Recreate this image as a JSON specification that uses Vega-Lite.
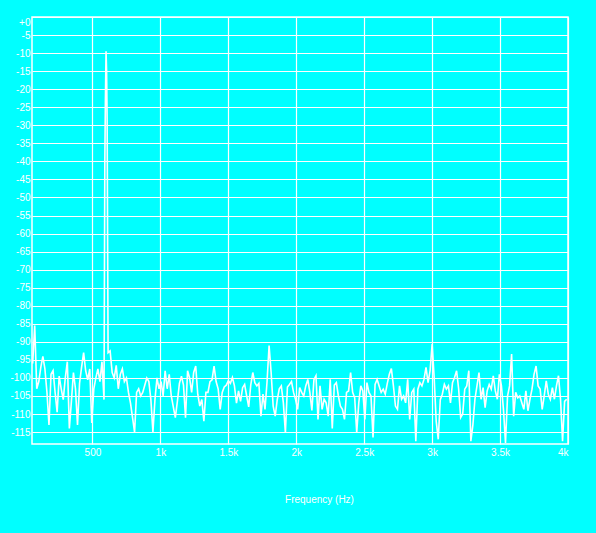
{
  "$schema": "https://vega.github.io/schema/vega-lite/v6.json",
  "width": 536,
  "height": 427,
  "autosize": {"type": "none"},
  "padding": {"left": 32, "top": 17, "right": 28, "bottom": 89},
  "background": "#00FFFF",
  "config": {
    "view": {"stroke": "#FFFFFF", "strokeWidth": 1.5, "fill": "#00FFFF"},
    "font": "Liberation Sans"
  },
  "data": {"values": [
    {"freq":60,"level":-96},{"freq":75,"level":-85.5},{"freq":90,"level":-103},{"freq":105,"level":-101},{"freq":120,"level":-97},
    {"freq":135,"level":-94},{"freq":150,"level":-97.5},{"freq":165,"level":-104},{"freq":180,"level":-113},{"freq":195,"level":-99},
    {"freq":210,"level":-98},{"freq":225,"level":-104},{"freq":240,"level":-109.5},{"freq":255,"level":-99.5},{"freq":270,"level":-103},
    {"freq":285,"level":-106},{"freq":300,"level":-100},{"freq":315,"level":-95.5},{"freq":330,"level":-114},{"freq":345,"level":-106.5},
    {"freq":360,"level":-98.5},{"freq":375,"level":-103},{"freq":390,"level":-113},{"freq":405,"level":-101.5},{"freq":420,"level":-97},
    {"freq":435,"level":-93},{"freq":450,"level":-98},{"freq":465,"level":-100.5},{"freq":480,"level":-97.5},{"freq":495,"level":-112.5},
    {"freq":510,"level":-103},{"freq":525,"level":-100},{"freq":540,"level":-97.5},{"freq":555,"level":-101},{"freq":570,"level":-95.5},
    {"freq":585,"level":-106},{"freq":591,"level":-40},{"freq":595,"level":-24},{"freq":600,"level":-9.5},{"freq":604,"level":-15},
    {"freq":608,"level":-28},{"freq":615,"level":-93},
    {"freq":630,"level":-92.5},{"freq":645,"level":-98.5},{"freq":660,"level":-100},{"freq":675,"level":-96.5},{"freq":690,"level":-103},
    {"freq":705,"level":-99},{"freq":720,"level":-97.5},{"freq":735,"level":-101},{"freq":750,"level":-100},{"freq":765,"level":-104},
    {"freq":780,"level":-107},{"freq":795,"level":-111},{"freq":810,"level":-115},{"freq":825,"level":-104},{"freq":840,"level":-103},
    {"freq":855,"level":-105},{"freq":870,"level":-104},{"freq":885,"level":-102},{"freq":900,"level":-100},{"freq":915,"level":-101},
    {"freq":930,"level":-106},{"freq":945,"level":-115},{"freq":960,"level":-106},{"freq":975,"level":-100},{"freq":990,"level":-103},
    {"freq":1005,"level":-101},{"freq":1020,"level":-105},{"freq":1035,"level":-98},{"freq":1050,"level":-103},{"freq":1065,"level":-99},
    {"freq":1080,"level":-105},{"freq":1095,"level":-108},{"freq":1110,"level":-111},{"freq":1125,"level":-106.5},{"freq":1140,"level":-101.5},
    {"freq":1155,"level":-99.5},{"freq":1170,"level":-102},{"freq":1185,"level":-111},{"freq":1200,"level":-98},{"freq":1215,"level":-100},
    {"freq":1230,"level":-104},{"freq":1245,"level":-98.5},{"freq":1260,"level":-96.7},{"freq":1275,"level":-104.5},{"freq":1290,"level":-107.8},
    {"freq":1305,"level":-106},{"freq":1320,"level":-112},{"freq":1335,"level":-104},{"freq":1350,"level":-104},{"freq":1365,"level":-101},
    {"freq":1380,"level":-100.5},{"freq":1395,"level":-96.7},{"freq":1410,"level":-101},{"freq":1425,"level":-103},{"freq":1440,"level":-108.7},
    {"freq":1455,"level":-104},{"freq":1470,"level":-102.5},{"freq":1485,"level":-102},{"freq":1500,"level":-100.8},{"freq":1515,"level":-101.5},
    {"freq":1530,"level":-99.9},{"freq":1545,"level":-102.2},{"freq":1560,"level":-107},{"freq":1575,"level":-103.6},{"freq":1590,"level":-106.5},
    {"freq":1605,"level":-102.7},{"freq":1620,"level":-101.8},{"freq":1635,"level":-105},{"freq":1650,"level":-108},{"freq":1665,"level":-102},
    {"freq":1680,"level":-98.5},{"freq":1695,"level":-101.3},{"freq":1710,"level":-102.2},{"freq":1725,"level":-101.5},{"freq":1740,"level":-110.6},
    {"freq":1755,"level":-104.5},{"freq":1770,"level":-108.7},{"freq":1785,"level":-101},{"freq":1800,"level":-91},{"freq":1815,"level":-98.5},
    {"freq":1830,"level":-107.8},{"freq":1845,"level":-110.6},{"freq":1860,"level":-106},{"freq":1875,"level":-103},{"freq":1890,"level":-102.2},
    {"freq":1905,"level":-106.9},{"freq":1920,"level":-115.2},{"freq":1935,"level":-102.5},{"freq":1950,"level":-101.8},{"freq":1965,"level":-101},
    {"freq":1980,"level":-104},{"freq":1995,"level":-106},{"freq":2010,"level":-108.7},{"freq":2025,"level":-102.7},{"freq":2040,"level":-104},
    {"freq":2055,"level":-105},{"freq":2070,"level":-102.2},{"freq":2085,"level":-100.4},{"freq":2100,"level":-104},{"freq":2115,"level":-109},
    {"freq":2130,"level":-100.5},{"freq":2145,"level":-99.4},{"freq":2160,"level":-111.5},{"freq":2175,"level":-102.2},{"freq":2190,"level":-108.7},
    {"freq":2205,"level":-105.9},{"freq":2220,"level":-106.9},{"freq":2235,"level":-110.6},{"freq":2250,"level":-100.4},{"freq":2265,"level":-114},
    {"freq":2280,"level":-102},{"freq":2295,"level":-101.3},{"freq":2310,"level":-105},{"freq":2325,"level":-107.8},{"freq":2340,"level":-108.7},
    {"freq":2355,"level":-111.5},{"freq":2370,"level":-104},{"freq":2385,"level":-103.6},{"freq":2400,"level":-98.5},{"freq":2415,"level":-104},
    {"freq":2430,"level":-105.5},{"freq":2445,"level":-115.2},{"freq":2460,"level":-106.9},{"freq":2475,"level":-102.2},{"freq":2490,"level":-103.6},
    {"freq":2505,"level":-111.5},{"freq":2520,"level":-101.3},{"freq":2535,"level":-104},{"freq":2550,"level":-105},{"freq":2565,"level":-116.5},
    {"freq":2580,"level":-101.8},{"freq":2595,"level":-100.4},{"freq":2610,"level":-102.2},{"freq":2625,"level":-104},{"freq":2640,"level":-103.1},
    {"freq":2655,"level":-104.5},{"freq":2670,"level":-101.5},{"freq":2685,"level":-99},{"freq":2700,"level":-97.4},{"freq":2715,"level":-102.2},
    {"freq":2730,"level":-107.8},{"freq":2745,"level":-108.7},{"freq":2760,"level":-102.2},{"freq":2775,"level":-105.9},{"freq":2790,"level":-105},
    {"freq":2805,"level":-106.9},{"freq":2820,"level":-100.4},{"freq":2835,"level":-111.5},{"freq":2850,"level":-104},{"freq":2865,"level":-103.1},
    {"freq":2880,"level":-117.5},{"freq":2895,"level":-103.1},{"freq":2910,"level":-101.3},{"freq":2925,"level":-102.2},{"freq":2940,"level":-100.4},
    {"freq":2955,"level":-97.1},{"freq":2970,"level":-101.3},{"freq":2985,"level":-98},{"freq":3000,"level":-90.6},{"freq":3015,"level":-99.9},
    {"freq":3030,"level":-112},{"freq":3045,"level":-117},{"freq":3060,"level":-106},{"freq":3075,"level":-104.5},{"freq":3090,"level":-101.8},
    {"freq":3105,"level":-103.1},{"freq":3120,"level":-102.2},{"freq":3135,"level":-106.9},{"freq":3150,"level":-101.3},{"freq":3165,"level":-99.9},
    {"freq":3180,"level":-98},{"freq":3195,"level":-103},{"freq":3210,"level":-111},{"freq":3225,"level":-110},{"freq":3240,"level":-103.1},
    {"freq":3255,"level":-102.2},{"freq":3270,"level":-98},{"freq":3285,"level":-117.5},{"freq":3300,"level":-113},{"freq":3315,"level":-105.9},
    {"freq":3330,"level":-102.2},{"freq":3345,"level":-98.5},{"freq":3360,"level":-105.9},{"freq":3375,"level":-102.7},{"freq":3390,"level":-108.2},
    {"freq":3405,"level":-103.6},{"freq":3420,"level":-101.8},{"freq":3435,"level":-103.1},{"freq":3450,"level":-99.4},{"freq":3465,"level":-103.6},
    {"freq":3480,"level":-105.9},{"freq":3495,"level":-99},{"freq":3510,"level":-102.2},{"freq":3525,"level":-108.7},{"freq":3540,"level":-118},
    {"freq":3555,"level":-105},{"freq":3570,"level":-102.2},{"freq":3585,"level":-93.4},{"freq":3600,"level":-110.6},{"freq":3615,"level":-104},
    {"freq":3630,"level":-105.5},{"freq":3645,"level":-105},{"freq":3660,"level":-106.9},{"freq":3675,"level":-108.7},{"freq":3690,"level":-103.6},
    {"freq":3705,"level":-109.1},{"freq":3720,"level":-105.9},{"freq":3735,"level":-103.1},{"freq":3750,"level":-99},{"freq":3765,"level":-96.7},
    {"freq":3780,"level":-102.2},{"freq":3795,"level":-103.1},{"freq":3810,"level":-108.7},{"freq":3825,"level":-105},{"freq":3840,"level":-100.8},
    {"freq":3855,"level":-104.5},{"freq":3870,"level":-105.9},{"freq":3885,"level":-102.7},{"freq":3900,"level":-105.9},{"freq":3915,"level":-102.2},
    {"freq":3930,"level":-99.4},{"freq":3945,"level":-105.9},{"freq":3960,"level":-117.5},{"freq":3975,"level":-106.5},{"freq":3990,"level":-105.9}
  ]},
  "mark": {"type": "line", "color": "#FFFFFF", "strokeWidth": 1.6},
  "encoding": {
    "x": {
      "field": "freq",
      "type": "quantitative",
      "scale": {"domain": [55, 4000], "nice": false, "zero": false},
      "axis": {
        "values": [500, 1000, 1500, 2000, 2500, 3000, 3500, 4000],
        "labelExpr": "datum.value >= 1000 ? toString(datum.value / 1000) + 'k' : toString(datum.value)",
        "grid": true,
        "gridColor": "#FFFFFF",
        "gridWidth": 1.2,
        "gridOpacity": 1,
        "domain": false,
        "ticks": false,
        "labelColor": "#FFFFFF",
        "labelFont": "Liberation Sans",
        "labelFontSize": 10,
        "labelPadding": 3,
        "labelFlush": true,
        "title": "Frequency (Hz)",
        "titleColor": "#FFFFFF",
        "titleFont": "Liberation Sans",
        "titleFontSize": 10,
        "titleFontWeight": "normal",
        "titleX": 287,
        "titleY": 55,
        "titleBaseline": "middle"
      }
    },
    "y": {
      "field": "level",
      "type": "quantitative",
      "scale": {"domain": [-118.3, 0], "nice": false, "zero": false},
      "axis": {
        "values": [0, -5, -10, -15, -20, -25, -30, -35, -40, -45, -50, -55, -60, -65, -70, -75, -80, -85, -90, -95, -100, -105, -110, -115],
        "labelExpr": "datum.value == 0 ? '+0' : toString(datum.value)",
        "grid": true,
        "gridColor": "#FFFFFF",
        "gridWidth": 1.2,
        "gridOpacity": 1,
        "domain": false,
        "ticks": false,
        "labelColor": "#FFFFFF",
        "labelFont": "Liberation Sans",
        "labelFontSize": 10,
        "labelPadding": 2,
        "labelFlush": true,
        "title": null
      }
    }
  }
}
